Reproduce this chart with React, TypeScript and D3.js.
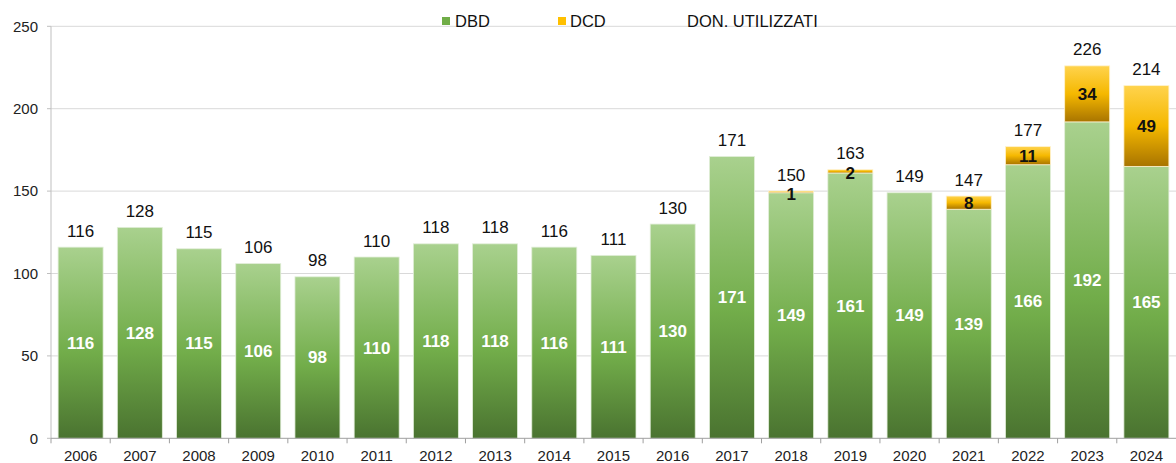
import React from "react";
import * as d3 from "d3";

const years = ["2006","2007","2008","2009","2010","2011","2012","2013","2014","2015","2016","2017","2018","2019","2020","2021","2022","2023","2024"];
const dbd = [116,128,115,106,98,110,118,118,116,111,130,171,149,161,149,139,166,192,165];
const dcd = [0,0,0,0,0,0,0,0,0,0,0,0,1,2,0,8,11,34,49];
const totals = [116,128,115,106,98,110,118,118,116,111,130,171,150,163,149,147,177,226,214];
const yTicks = [0,50,100,150,200,250];

const W = 1176, H = 463;
const m = { left: 51, right: 0, top: 26.3, bottom: 24.7 };

export default function App() {
  const x = d3.scaleBand<string>().domain(years).range([m.left, W - m.right]).paddingInner(0.24).paddingOuter(0.12);
  const y = d3.scaleLinear().domain([0, 250]).range([H - m.bottom, m.top]);
  const step = x.step();
  const font = "'Liberation Sans', Arial, sans-serif";
  return (
    <svg width={W} height={H} style={{ position: "absolute", left: 0, top: 0, background: "#fff" }} fontFamily={font}>
      <defs>
        <linearGradient id="gG" x1="0" y1="0" x2="0" y2="1">
          <stop offset="0" stopColor="#a9d18e" />
          <stop offset="0.55" stopColor="#72ad4a" />
          <stop offset="1" stopColor="#4a7330" />
        </linearGradient>
        <linearGradient id="gY" x1="0" y1="0" x2="0" y2="1">
          <stop offset="0" stopColor="#ffd34d" />
          <stop offset="0.5" stopColor="#f5b800" />
          <stop offset="1" stopColor="#a87400" />
        </linearGradient>
      </defs>
      {yTicks.filter(t => t > 0).map(t => (
        <line key={t} x1={m.left} x2={W} y1={y(t)} y2={y(t)} stroke="#d9d9d9" strokeWidth={1} />
      ))}
      {yTicks.map(t => (
        <g key={"yt" + t}>
          <line x1={m.left - 4} x2={m.left} y1={y(t)} y2={y(t)} stroke="#bfbfbf" />
          <text x={m.left - 13} y={y(t)} dy="0.35em" textAnchor="end" fontSize={15} fill="#222">{t}</text>
        </g>
      ))}
      <line x1={m.left} x2={m.left} y1={y(250)} y2={y(0)} stroke="#bfbfbf" />
      {years.map((yr, i) => {
        const bx = x(yr)!;
        const bw = x.bandwidth();
        const g0 = y(0), g1 = y(dbd[i]);
        const d1 = y(dbd[i] + dcd[i]);
        return (
          <g key={yr}>
            <rect x={bx} y={g1} width={bw} height={g0 - g1} fill="url(#gG)" stroke="#e2eed9" strokeWidth={0.8} />
            {dcd[i] > 0 && (
              <rect x={bx} y={d1} width={bw} height={g1 - d1} fill="url(#gY)" stroke="#fff2cc" strokeWidth={0.8} />
            )}
            <text x={bx + bw / 2} y={(g0 + g1) / 2} dy="0.35em" textAnchor="middle" fontSize={17} fontWeight="bold" fill="#fff">{dbd[i]}</text>
            {dcd[i] > 0 && (
              <text x={bx + bw / 2} y={(g1 + d1) / 2 + (dcd[i] < 5 ? 2 : 0)} dy="0.35em" textAnchor="middle" fontSize={17} fontWeight="bold" fill="#111">{dcd[i]}</text>
            )}
            <text x={bx + bw / 2} y={y(totals[i]) - 10.5} textAnchor="middle" fontSize={17} fill="#111">{totals[i]}</text>
            <text x={bx + bw / 2} y={H - 2} textAnchor="middle" fontSize={15} fill="#222">{yr}</text>
          </g>
        );
      })}
      <line x1={m.left} x2={W} y1={y(0)} y2={y(0)} stroke="#9f9f9f" />
      {years.map((yr, i) => (
        <line key={"xt" + yr} x1={m.left + step * i} x2={m.left + step * i} y1={y(0)} y2={y(0) + 5} stroke="#9f9f9f" />
      ))}
      <g fontSize={16.5} fill="#111">
        <rect x={442} y={17} width={8} height={8} fill="#70ad47" />
        <text x={455} y={26.5}>DBD</text>
        <rect x={558} y={17} width={8} height={8} fill="#ffc000" />
        <text x={570} y={26.5}>DCD</text>
        <text x={687} y={26.5}>DON. UTILIZZATI</text>
      </g>
    </svg>
  );
}
